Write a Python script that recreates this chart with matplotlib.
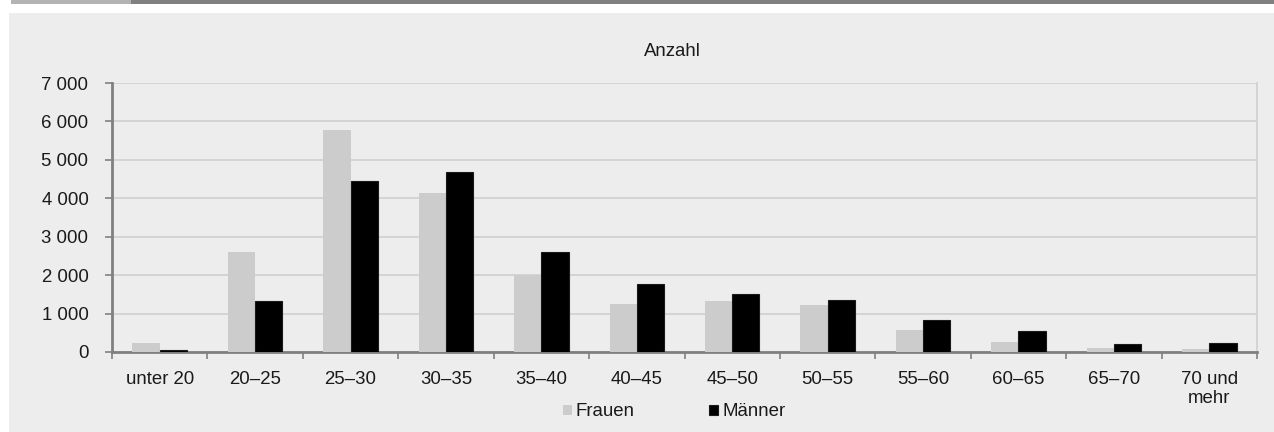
import matplotlib
matplotlib.use("Agg")
import matplotlib.pyplot as plt
from matplotlib.patches import Rectangle
import numpy as np

categories = ["unter 20", "20–25", "25–30", "30–35", "35–40", "40–45", "45–50",
              "50–55", "55–60", "60–65", "65–70", "70 und\nmehr"]
frauen = [234, 2600, 5770, 4150, 2004, 1241, 1327, 1223, 565, 260, 112, 78]
maenner = [50, 1336, 4450, 4690, 2610, 1762, 1509, 1345, 833, 546, 208, 226]
yticks = [0, 1000, 2000, 3000, 4000, 5000, 6000, 7000]
ytick_labels = ["0", "1 000", "2 000", "3 000", "4 000", "5 000", "6 000", "7 000"]

plt.rcParams['font.family'] = ['Liberation Sans', 'DejaVu Sans']
FS = 13.4

W, H = 1274, 432
fig = plt.figure(figsize=(W / 100, H / 100), dpi=100)
fig.patch.set_facecolor("white")

def fx(px):
    return px / W

def fy(py):
    return 1 - py / H

# panel background
fig.patches.append(Rectangle((fx(9), 0), 1 - fx(9), fy(13), transform=fig.transFigure,
                             facecolor="#ededed", edgecolor="none", zorder=-10))
# top bar
fig.patches.append(Rectangle((fx(11), fy(4)), fx(131) - fx(11), fy(0) - fy(4), transform=fig.transFigure,
                             facecolor="#b3b3b3", edgecolor="none", zorder=-10))
fig.patches.append(Rectangle((fx(131), fy(4)), 1 - fx(131), fy(0) - fy(4), transform=fig.transFigure,
                             facecolor="#808080", edgecolor="none", zorder=-10))

ax = fig.add_axes([fx(112), fy(352), fx(1257) - fx(112), fy(83) - fy(352)])
ax.set_zorder(5)
ax.set_facecolor("#ededed")

x = np.arange(len(categories))
w = 0.286
ax.bar(x - w / 2, frauen, width=w, color="#cccccc", edgecolor="none", label="Frauen", zorder=3)
ax.bar(x + w / 2, maenner, width=w, color="#000000", edgecolor="#1a1a1a", linewidth=0.8,
       label="Männer", zorder=3)

ax.set_xlim(-0.5, len(categories) - 0.5)
ax.set_ylim(0, 7000)
ax.set_yticks(yticks)
ax.set_yticklabels(ytick_labels, fontsize=FS, color="#1a1a1a")
ax.yaxis.grid(True, color="#d0d0d0", linewidth=1.2, zorder=0)
ax.set_axisbelow(True)

ax.set_xticks(x)
ax.set_xticklabels(categories, fontsize=FS, color="#1a1a1a", linespacing=1.15)
ax.set_xticks(np.arange(-0.5, len(categories), 1.0), minor=True)
ax.tick_params(axis="x", which="major", length=0, pad=14)
ax.tick_params(axis="x", which="minor", length=5, width=1.2, color="#808080")
ax.tick_params(axis="y", length=5, width=1.2, color="#808080", pad=12)

for s in ["left", "bottom"]:
    ax.spines[s].set_color("#808080")
    ax.spines[s].set_linewidth(2)
ax.spines["top"].set_visible(False)
ax.spines["right"].set_color("#d0d0d0")
ax.spines["right"].set_linewidth(1.2)

fig.text(fx(672), fy(52), "Anzahl", ha="center", va="center", fontsize=FS, color="#1a1a1a")

leg = fig.legend(loc="center", bbox_to_anchor=(fx(674), fy(412)), ncol=2, frameon=False,
                 fontsize=FS, handlelength=0.5, handleheight=0.5, handletextpad=0.2,
                 columnspacing=4.0, labelcolor="#1a1a1a")

fig.savefig("out.png", dpi=100, facecolor=fig.get_facecolor())
